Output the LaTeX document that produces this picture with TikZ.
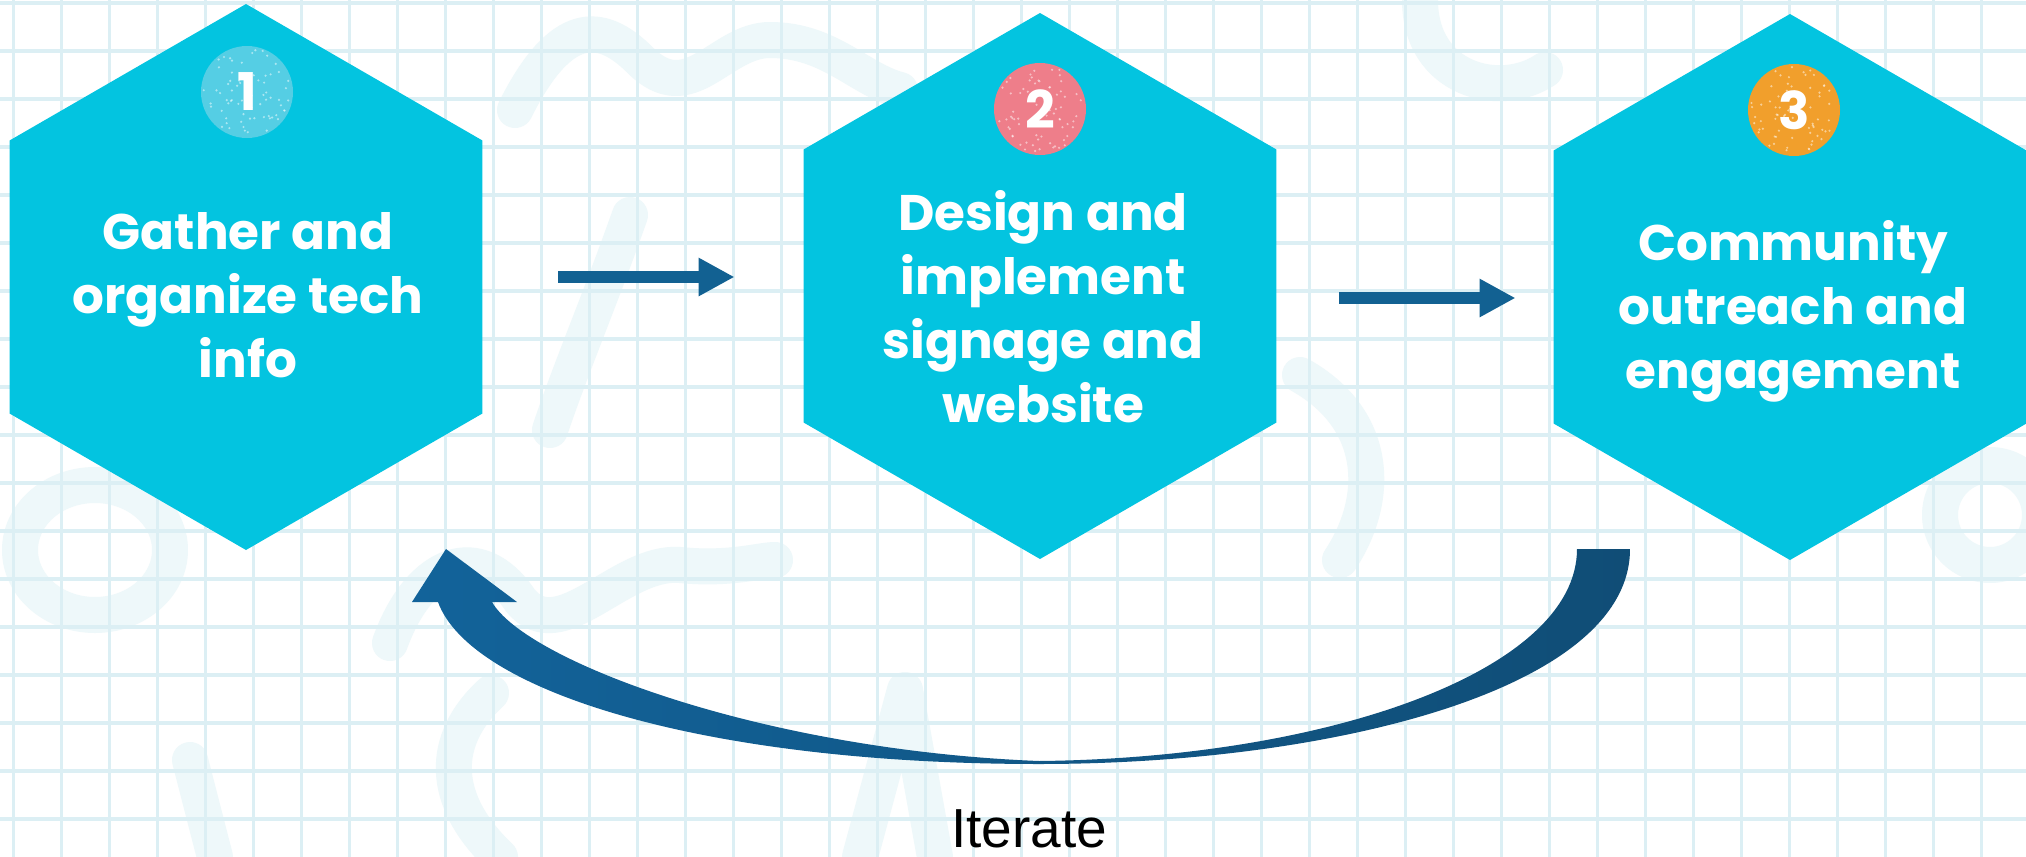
\documentclass[tikz,border=0pt]{standalone}
\usepackage{fontspec}
\usetikzlibrary{shapes.geometric,arrows.meta,calc}
\newfontfamily\hexfont{Poppins}
\newfontfamily\itfont{Liberation Sans}
\definecolor{hexcyan}{HTML}{03C4E0}
\definecolor{gridc}{HTML}{DCEFF4}
\definecolor{blobc}{HTML}{EEF8FA}
\definecolor{arrowc}{HTML}{126192}
\definecolor{arrowl}{HTML}{12639A}
\definecolor{arrowr}{HTML}{104D76}
\definecolor{badgea}{HTML}{55CEE4}
\definecolor{badgeb}{HTML}{EE7E8A}
\definecolor{badgec}{HTML}{F19F2C}
\begin{document}
\begin{tikzpicture}[x=0.5pt,y=-0.5pt,
  hexbox/.style={regular polygon, regular polygon sides=6, shape border rotate=30,
    minimum size=273pt, inner sep=0pt, outer sep=0pt, fill=hexcyan},
  hextext/.style={text=white, font=\hexfont\bfseries\fontsize{25}{32}\selectfont,
    align=center, inner sep=0pt},
  badge/.style={circle, minimum size=46pt, inner sep=0pt, text=white,
    font=\hexfont\bfseries\fontsize{26}{26}\selectfont},
  flowarrow/.style={draw=arrowc, line width=6pt, -{Triangle[length=18pt,width=18pt]}},
  blob/.style={draw=blobc, line width=18pt, line cap=round, line join=round},
  gridline/.style={draw=gridc}]
\useasboundingbox (0,0) rectangle (2026,857);
\fill[white] (0,0) rectangle (2026,857);
% faint background strokes
\draw[blob] (515,110) .. controls (560,20) and (600,20) .. (640,60)
  .. controls (690,110) and (720,40) .. (770,40) .. controls (830,40) and (860,80) .. (900,90);
\draw[blob] (630,215) .. controls (600,300) and (570,370) .. (550,430);
\draw[blob] (95,550) ellipse (75 and 65);
\draw[blob] (390,643) .. controls (420,560) and (480,540) .. (520,600)
  .. controls (560,650) and (620,560) .. (680,565) .. controls (730,570) and (760,560) .. (775,560);
\draw[blob] (491,693) .. controls (440,740) and (440,800) .. (500,857);
\draw[blob] (190,760) -- (215,857);
\draw[blob] (860,857) -- (905,690) -- (935,857);
\draw[blob] (1300,375) .. controls (1380,420) and (1380,500) .. (1340,560);
\draw[blob] (1990,515) circle (50);
\draw[blob] (1420,0) .. controls (1420,80) and (1500,100) .. (1545,70);
% grid
\foreach \i in {0,...,42} \draw[gridline, line width=1.5pt] ({13+48*\i},0) -- ({13+48*\i},857);
\foreach \j in {0,...,17} \draw[gridline, line width=2pt] (0,{3+48*\j}) -- (2026,{3+48*\j});
% hexagons
\node[hexbox] (h1) at (246,277) {};
\node[hexbox] (h2) at (1040,286) {};
\node[hexbox] (h3) at (1790,287) {};
% badges
\node[badge, fill=badgea] (b1) at (247,92) {1};
\node[badge, fill=badgeb] (b2) at (1040,109) {2};
\node[badge, fill=badgec] (b3) at (1794,110) {3};
\pgfmathsetseed{7}
\foreach \b in {b1,b2,b3}{
  \foreach \k in {1,...,70}{
    \pgfmathsetmacro\ang{360*rnd}
    \pgfmathsetmacro\rad{44*sqrt(rnd)}
    \fill[white, opacity=0.5] ($(\b.center)+(\ang:\rad)$) circle (0.6pt);
  }
}
% texts
\node[hextext] (t1) at (248,295) {Gather and\\organize tech\\info};
\node[hextext] (t2) at (1043,307) {Design and\\implement\\signage and\\website};
\node[hextext] (t3) at (1793,311) {Community\\outreach and\\engagement};
% straight arrows
\draw[flowarrow, shorten <=38pt, shorten >=34.5pt] (h1.east) -- (h1.east -| h2.west);
\draw[flowarrow, shorten <=31.5pt, shorten >=19pt] ([yshift=-6pt]h2.east) -- ([yshift=-6pt]h2.east -| h3.west);
% curved return arrow
\coordinate (tailtop) at (1603,549);
\coordinate (tiptop) at (446,549);
\shade[left color=arrowl, right color=arrowr]
  (1630,549) .. controls (1630,690) and (1330,764) .. (1039,764)
  .. controls (700,764) and (470,690) .. (438,602)
  -- (412,602) -- (tiptop) -- (517,602) -- (492,602)
  .. controls (525,660) and (760,750) .. (1039,761)
  .. controls (1330,758) and (1577,670) .. (1577,549) -- cycle;
\node[font=\itfont\fontsize{27.5}{30}\selectfont, anchor=base, inner sep=0pt] (iter) at (1029,847) {Iterate};
\end{tikzpicture}
\end{document}
